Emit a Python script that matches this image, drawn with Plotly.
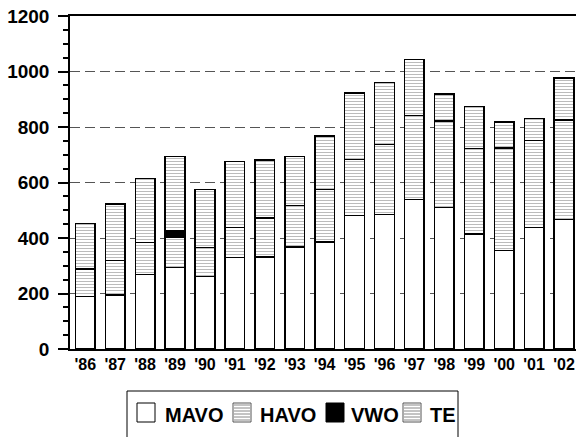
import plotly.graph_objects as go

years = ["'86", "'87", "'88", "'89", "'90", "'91", "'92", "'93", "'94",
         "'95", "'96", "'97", "'98", "'99", "'00", "'01", "'02"]
mavo = [190, 195, 268, 293, 261, 329, 331, 368, 385, 481, 485, 538, 510, 415, 355, 437, 466]
havo = [99, 124, 116, 108, 104, 109, 141, 149, 190, 202, 252, 304, 311, 307, 370, 314, 360]
vwo = [None, None, None, 26, None, None, None, None, None, None, None, None, None, None, None, None, None]
te = [163, 204, 230, 267, 209, 238, 210, 177, 193, 240, 223, 202, 98, 152, 93, 79, 150]
legend_names = ["MAVO", "HAVO", "VWO", "TE"]

W, H = 576, 437
ML, MR, MT, MB = 70, 0, 16, 88
PW, PH = W - ML - MR, H - MT - MB

def fx(p):
    return (p - ML) / PW

def fy(p):
    return (H - MB - p) / PH

FONT = "Arial, Liberation Sans, sans-serif"
line = dict(color="black", width=1.5)
hatch = dict(shape="-", size=3, solidity=0.35, fgcolor="#777777", bgcolor="white")

fig = go.Figure()
fig.add_bar(x=years, y=mavo, name=legend_names[0], marker=dict(color="white", line=line))
fig.add_bar(x=years, y=havo, name=legend_names[1], marker=dict(color="white", pattern=hatch, line=line))
fig.add_bar(x=years, y=vwo, name=legend_names[2], marker=dict(color="black", line=line))
fig.add_bar(x=years, y=te, name=legend_names[3], marker=dict(color="white", pattern=hatch, line=line))

shapes = []
annotations = []
# legend frame
shapes.append(dict(type="rect", xref="paper", yref="paper",
                   x0=fx(127), x1=fx(458), y0=fy(391), y1=fy(445),
                   line=dict(color="black", width=1), fillcolor="rgba(0,0,0,0)"))
items = [(137, 163, "plain"), (233, 258, "hatch"), (326, 349, "solid"), (403, 428, "hatch")]
top, bot = 403, 422
for (sx, tx, kind), name in zip(items, legend_names):
    fill = "black" if kind == "solid" else "white"
    lc = "black" if kind != "hatch" else "#555555"
    shapes.append(dict(type="rect", xref="paper", yref="paper",
                       x0=fx(sx), x1=fx(sx + 18), y0=fy(bot), y1=fy(top),
                       line=dict(color=lc, width=1), fillcolor=fill))
    if kind == "hatch":
        path = ""
        yy = top + 2
        while yy < bot:
            path += f"M{fx(sx + 1)},{fy(yy)} L{fx(sx + 17)},{fy(yy)} "
            yy += 3
        shapes.append(dict(type="path", xref="paper", yref="paper", path=path,
                           line=dict(color="#888888", width=1)))
    annotations.append(dict(xref="paper", yref="paper", x=fx(tx), y=fy(414.5),
                            xanchor="left", yanchor="middle", showarrow=False,
                            text=name, font=dict(family=FONT, size=20, color="black", weight="bold")))

fig.update_layout(
    width=W, height=H,
    margin=dict(l=ML, r=MR, t=MT, b=MB),
    barmode="stack", bargap=0.343,
    paper_bgcolor="white", plot_bgcolor="white",
    showlegend=False,
    shapes=shapes, annotations=annotations,
    font=dict(family=FONT, color="black"),
)
fig.update_xaxes(range=[-0.51, 16.4], showline=True, linecolor="black", linewidth=1.5,
                 mirror=True, ticks="", showgrid=False,
                 tickfont=dict(family=FONT, size=16, color="black", weight="bold"))
fig.update_yaxes(range=[0, 1200], dtick=200, showline=True, linecolor="black", linewidth=1.5,
                 ticks="outside", ticklen=10, tickwidth=1.5, tickcolor="black",
                 ticklabelstandoff=5,
                 minor=dict(dtick=50, ticks="outside", ticklen=5, tickwidth=1.5, tickcolor="black", showgrid=False),
                 showgrid=True, gridcolor="#555555", gridwidth=1.3, griddash="10px,5px",
                 zeroline=False,
                 tickfont=dict(family=FONT, size=19, color="black", weight="bold"))

fig.write_html("out.html", config={"displayModeBar": False},
               post_script="document.body.style.margin='0';document.body.style.overflow='hidden';")
